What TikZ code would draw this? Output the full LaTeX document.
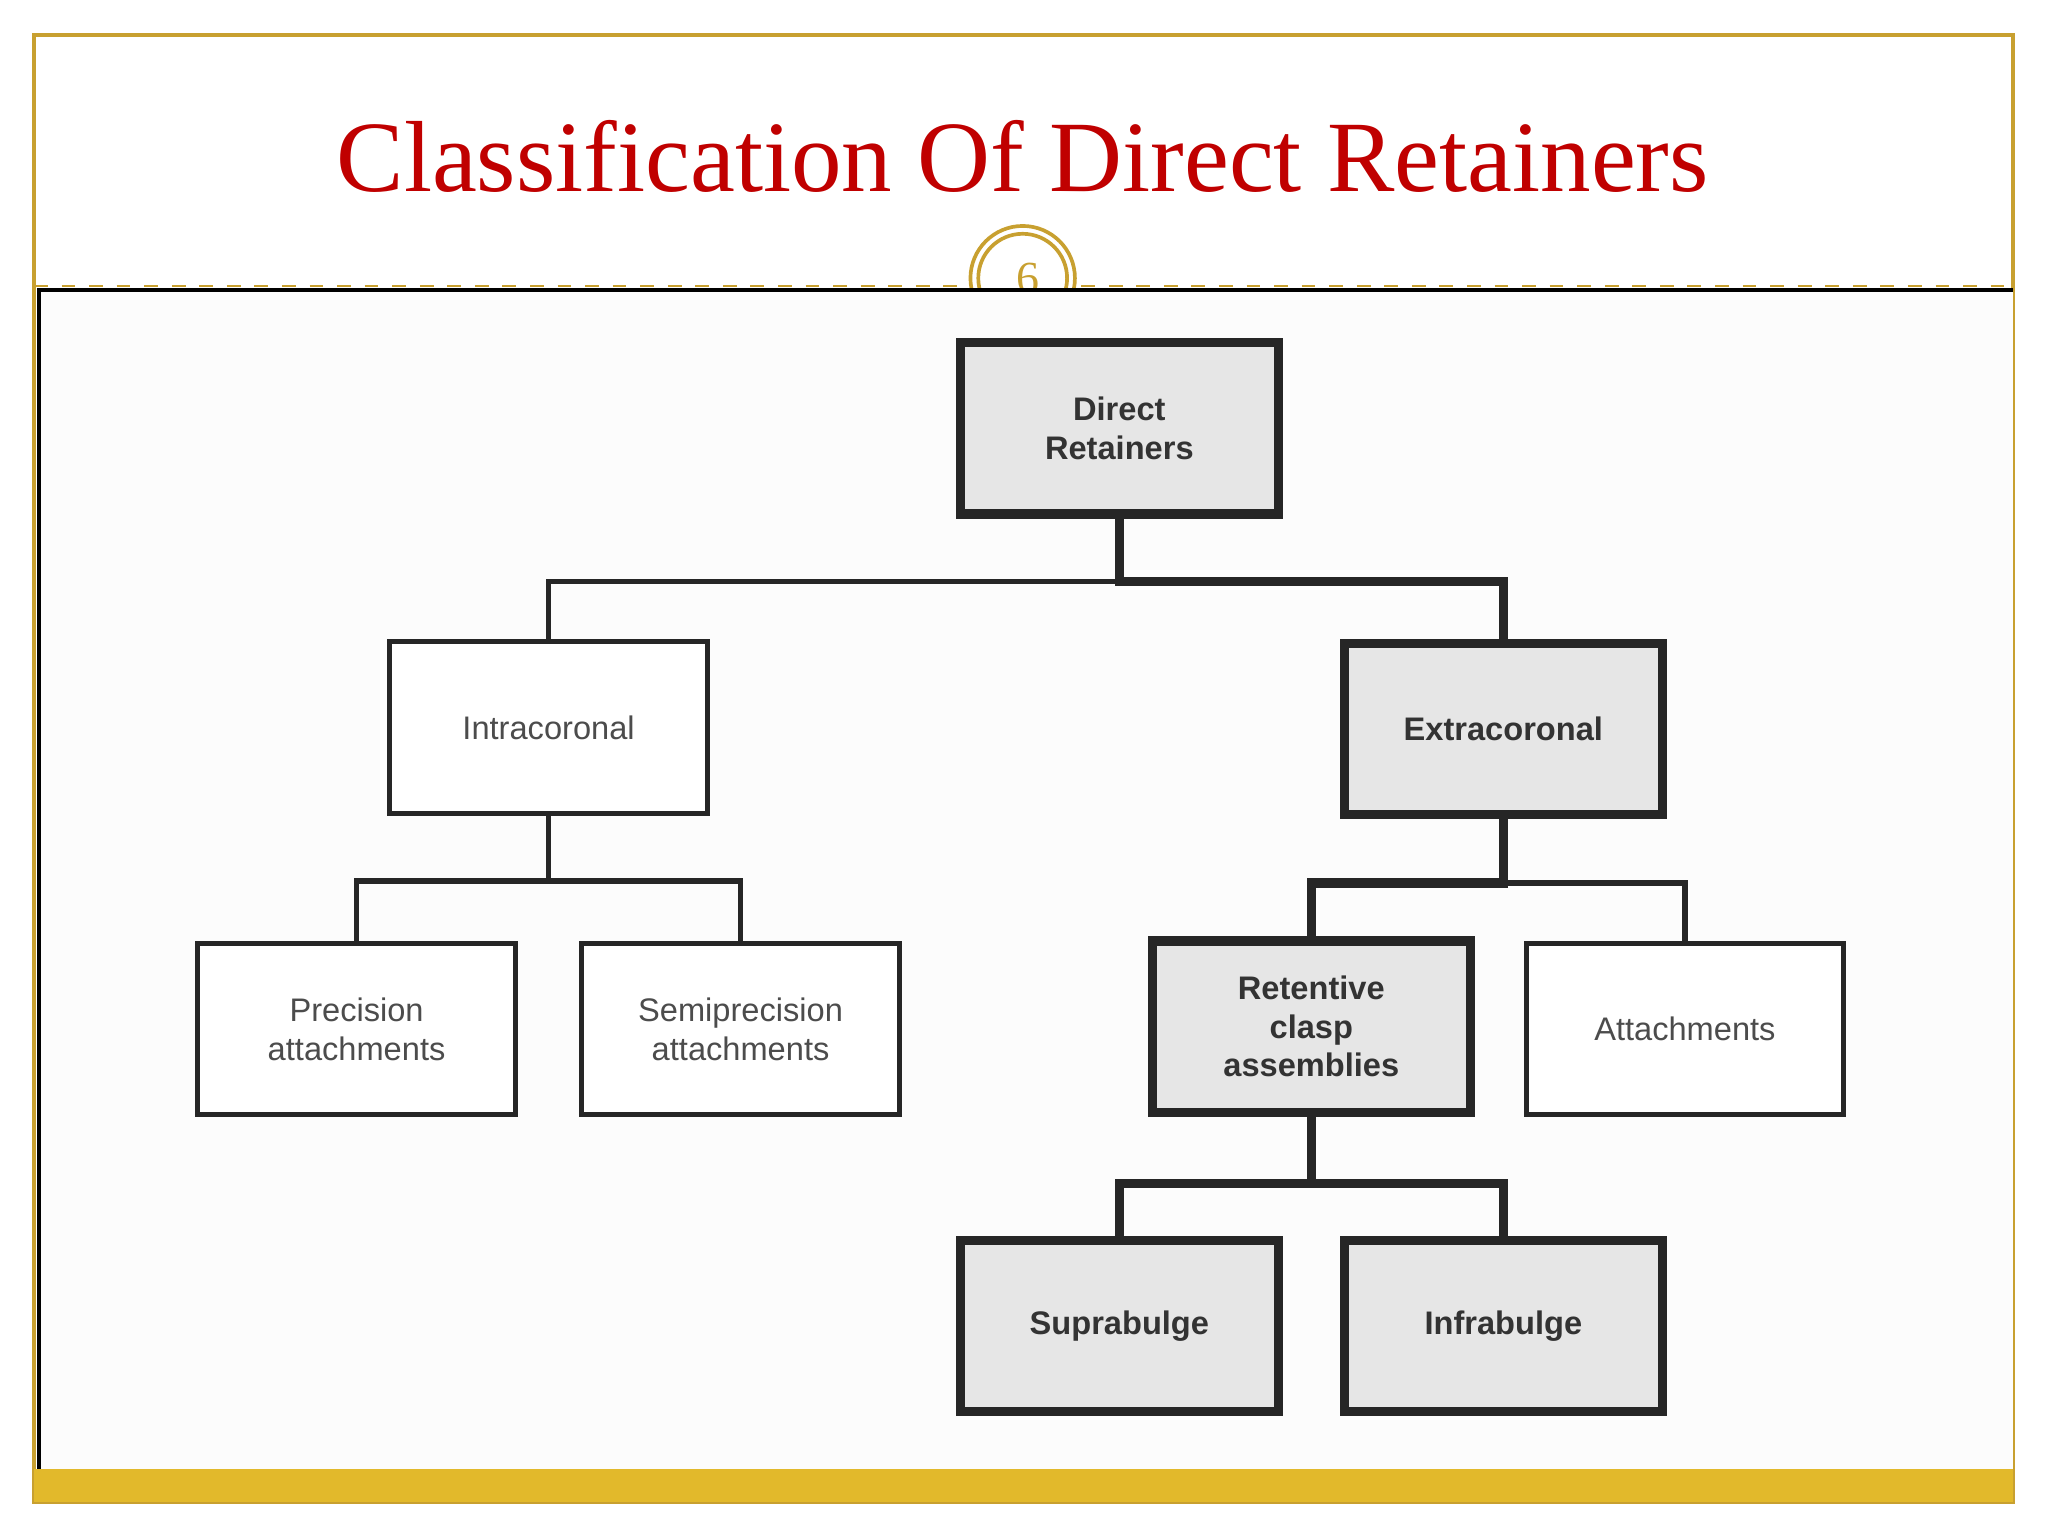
\documentclass[tikz,border=0pt]{standalone}
\usepackage{fontspec}
\setmainfont{Liberation Serif}
\newfontfamily\boxfont{Liberation Sans}
\definecolor{gold}{HTML}{E2B92B}
\definecolor{goldline}{HTML}{C8A030}
\definecolor{titlered}{HTML}{C00000}
\definecolor{boxgray}{HTML}{E6E6E6}
\begin{document}
\begin{tikzpicture}[x=0.01cm,y=-0.01cm,
  box/.style={draw=black!85,line width=1.1pt,minimum width=2.43cm,minimum height=1.31cm,align=center,inner sep=1pt,font=\boxfont\fontsize{7.1}{8.4}\selectfont,text=black!70},
  dark/.style={box,fill=boxgray,line width=2pt,font=\boxfont\bfseries\fontsize{7.1}{8.4}\selectfont,text=black!80},
  lite/.style={box,fill=white},
  conn/.style={line width=1.2pt,black!85,line cap=rect},
  thick conn/.style={line width=2pt,black!85,line cap=rect}]
\useasboundingbox (0,0) rectangle (1568,1176);
\fill[white] (0,0) rectangle (1568,1176);
\draw[goldline,line width=0.8pt] (26,27) rectangle (1541,1150);
\draw[goldline,dashed,line width=0.5pt] (26,219) -- (1541,219);
\fill[white!99!black] (30,222) rectangle (1541,1125);
\draw[black,line width=1pt] (30,1125) -- (30,222) -- (1541,222);
\fill[gold] (26,1125) rectangle (1541,1150);
\node[font=\fontsize{22}{26}\selectfont,text=titlered] (title) at (783,120) {Classification Of Direct Retainers};
\draw[goldline,fill=white,line width=0.8pt] (783,213) circle (40);
\draw[goldline,line width=0.8pt] (783,213) circle (34);
\node[text=goldline,font=\fontsize{10}{12}\selectfont] (num) at (787,213) {6};
\fill[white!99!black] (700,222) rectangle (870,260);
\draw[black,line width=1pt] (700,222) -- (870,222);

\node[dark] (dr) at (857,328) {Direct\\Retainers};
\node[lite] (intra) at (420,557) {Intracoronal};
\node[dark] (extra) at (1151,558) {Extracoronal};
\node[lite] (prec) at (273,788) {Precision\\attachments};
\node[lite] (semi) at (567,788) {Semiprecision\\attachments};
\node[dark] (ret) at (1004,786) {Retentive\\clasp\\assemblies};
\node[lite] (att) at (1290,788) {Attachments};
\node[dark] (supra) at (857,1015) {Suprabulge};
\node[dark] (infra) at (1151,1015) {Infrabulge};

\draw[thick conn] (dr.south) -- ++(0,48) coordinate (j1);
\draw[conn] (j1) -| (intra.north);
\draw[thick conn] (j1) -| (extra.north);
\draw[conn] (intra.south) -- ++(0,50) coordinate (j2);
\draw[conn] (j2) -| (prec.north);
\draw[conn] (j2) -| (semi.north);
\draw[thick conn] (extra.south) -- ++(0,49) coordinate (j3);
\draw[thick conn] (j3) -| (ret.north);
\draw[conn] (j3) -| (att.north);
\draw[thick conn] (ret.south) -- ++(0,51) coordinate (j4);
\draw[thick conn] (j4) -| (supra.north);
\draw[thick conn] (j4) -| (infra.north);
\end{tikzpicture}
\end{document}
